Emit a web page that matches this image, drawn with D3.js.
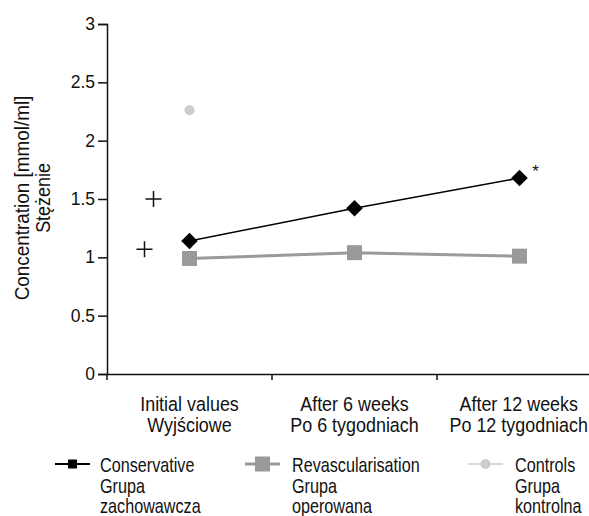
<!DOCTYPE html>
<html>
<head>
<meta charset="utf-8">
<script src="https://cdn.jsdelivr.net/npm/d3@7"></script>
<style>
body{margin:0;background:#fff;}
text{font-family:'Liberation Sans',Arial,sans-serif;fill:#111;}
</style>
</head>
<body>
<div class="canvas"></div>
<script>
// data
const categories=[['Initial values','Wyjściowe'],['After 6 weeks','Po 6 tygodniach'],['After 12 weeks','Po 12 tygodniach']];
const conservative=[1.14,1.42,1.68];
const revasc=[0.99,1.04,1.01];
const controls=[2.26];
const plusMarks=[1.5,1.07];//the two "+" left of the first category
const yTicks=[0,0.5,1,1.5,2,2.5,3];

const W=589,H=516;
const svg=d3.select('.canvas').append('svg')
    .attr('width',W)
    .attr('height',H);

const x=d3.scaleBand().domain([0,1,2]).range([107,602]);
const y=d3.scaleLinear().domain([0,3]).range([374,24]);
const cx=i=>x(i)+x.bandwidth()/2;

// the original uses a condensed face, so squeeze Liberation Sans a bit
function label(g,tx,ty,str,size,sx,anchor){
  return g.append('text')
    .attr('transform',`translate(${tx},${ty}) scale(${sx},1)`)
    .attr('font-size',size)
    .attr('text-anchor',anchor||'start')
    .text(str);
}

// y axis
const yAxis=svg.append('g')
    .attr('transform','translate(107,0)')
    .call(d3.axisLeft(y).tickValues(yTicks).tickSize(9).tickFormat(d3.format('')));
yAxis.select('.domain').attr('stroke','#111').attr('stroke-width',1.5);
yAxis.selectAll('.tick line').attr('stroke','#111').attr('stroke-width',1.5);
yAxis.selectAll('.tick text').attr('font-size',17.5).attr('x',-12).attr('font-family',null).attr('fill','#111');

// x axis
const xAxis=svg.append('g')
    .attr('transform','translate(0,374)')
    .call(d3.axisBottom(x).tickValues([]).tickSizeOuter(0));
xAxis.select('.domain').attr('stroke','#111').attr('stroke-width',1.5);
svg.append('g').selectAll('line').data([0,1,2]).join('line')
    .attr('x1',d=>x(d)).attr('x2',d=>x(d))
    .attr('y1',374).attr('y2',380)
    .attr('stroke','#111').attr('stroke-width',1.5);

// category labels, pulled back inside the picture if they run past the right edge
categories.forEach((c,i)=>{
  const g=svg.append('g').attr('transform',`translate(${cx(i)},0)`);
  label(g,0,410.5,c[0],19.5,0.92,'middle');
  label(g,0,432,c[1],19.5,0.92,'middle');
  const b=g.node().getBBox();
  const over=cx(i)+b.x+b.width-(W-1);
  if(over>0) g.attr('transform',`translate(${cx(i)-over},0)`);
});

// y title
const yt=svg.append('g').attr('transform','translate(0,198) rotate(-90)');
label(yt,0,28.5,'Concentration [mmol/ml]',19.5,0.97,'middle');
label(yt,0,50,'Stężenie',19.5,0.92,'middle');

const line=d3.line().x((d,i)=>cx(i)).y(d=>y(d));

// revascularisation
svg.append('path').datum(revasc)
    .attr('d',line).attr('fill','none')
    .attr('stroke','#9a9a9a').attr('stroke-width',3);
svg.append('g').selectAll('rect').data(revasc).join('rect')
    .attr('x',(d,i)=>cx(i)-7.5).attr('y',d=>y(d)-7.5)
    .attr('width',15).attr('height',15)
    .attr('fill','#9a9a9a');

// conservative
svg.append('path').datum(conservative)
    .attr('d',line).attr('fill','none')
    .attr('stroke','#000').attr('stroke-width',1.5);
svg.append('g').selectAll('path').data(conservative).join('path')
    .attr('d',d3.symbol(d3.symbolDiamond2,175))
    .attr('transform',(d,i)=>`translate(${cx(i)},${y(d)})`)
    .attr('fill','#000');

// controls
svg.append('g').selectAll('circle').data(controls).join('circle')
    .attr('cx',(d,i)=>cx(i)).attr('cy',d=>y(d))
    .attr('r',5).attr('fill','#cccccc');

// plus marks
const plusOffset=[-36,-45];
svg.append('g').selectAll('path').data(plusMarks).join('path')
    .attr('d',(d,i)=>{
      const px=cx(0)+plusOffset[i], py=y(d);
      return `M${px-8},${py}H${px+8}M${px},${py-8}V${py+8}`;
    })
    .attr('stroke','#111').attr('stroke-width',1.5);

// asterisk
svg.append('text')
    .attr('x',cx(2)+16).attr('y',y(conservative[2])-1)
    .attr('text-anchor','middle')
    .attr('font-size',17).text('*');

// legend
const legend=[
  {names:['Conservative','Grupa','zachowawcza'],color:'#000',mark:'square',lx:55,tx:100,w:2},
  {names:['Revascularisation','Grupa','operowana'],color:'#9a9a9a',mark:'bigsquare',lx:245,tx:292,w:3},
  {names:['Controls','Grupa','kontrolna'],color:'#cccccc',mark:'circle',lx:468,tx:515,w:1.5}
];
const lg=svg.append('g').selectAll('g').data(legend).join('g');
lg.append('line')
    .attr('x1',d=>d.lx).attr('x2',d=>d.lx+35)
    .attr('y1',464).attr('y2',464)
    .attr('stroke',d=>d.color).attr('stroke-width',d=>d.w);
lg.filter(d=>d.mark!=='circle').append('rect')
    .attr('x',d=>d.lx+17.5-(d.mark==='square'?4.5:7.5))
    .attr('y',d=>464-(d.mark==='square'?4.5:7.5))
    .attr('width',d=>d.mark==='square'?9:15)
    .attr('height',d=>d.mark==='square'?9:15)
    .attr('fill',d=>d.color);
lg.filter(d=>d.mark==='circle').append('circle')
    .attr('cx',d=>d.lx+17.5).attr('cy',464).attr('r',5)
    .attr('fill',d=>d.color);
lg.each(function(d){
  const g=d3.select(this);
  d.names.forEach((n,i)=>label(g,d.tx,472+i*20.5,n,19.5,0.83));
});
</script>
</body>
</html>
